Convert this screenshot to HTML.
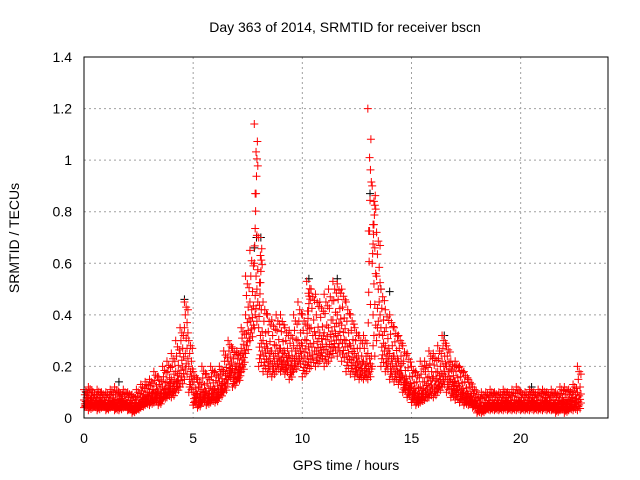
<!DOCTYPE html>
<html><head><meta charset="utf-8"><style>
body{margin:0;background:#fff}
svg{display:block;font-family:"Liberation Sans",sans-serif;font-size:14px}
</style></head><body>
<svg id="c" width="640" height="480">
<rect width="640" height="480" fill="#fff"/>
<g id="grid"></g>
<g id="black"></g>
<g id="red"></g>
<rect x="84" y="57" width="524" height="361" fill="none" stroke="#000"/>
<g id="ticks"></g>
<text x="345" y="32" text-anchor="middle">Day 363 of 2014, SRMTID for receiver bscn</text>
<text x="346" y="470" text-anchor="middle">GPS time / hours</text>
<text transform="translate(19,238) rotate(-90)" text-anchor="middle">SRMTID / TECUs</text>
</svg>
<script>
const xTicks=[0,5,10,15,20];
const yTicks=[0,0.2,0.4,0.6,0.8,1,1.2,1.4];
const yTickLabels=["0","0.2","0.4","0.6","0.8","1","1.2","1.4"];
const step=0.2;
const redLow=[.04,.03,.04,.03,.04,.03,.04,.03,.03,.04,.03,.02,.03,.04,.05,.05,.06,.05,.07,.08,.08,.10,.12,.15,.10,.05,.04,.06,.05,.06,.06,.08,.10,.15,.12,.14,.18,.25,.30,.35,.20,.18,.17,.16,.18,.18,.17,.15,.18,.20,.16,.18,.20,.20,.22,.20,.22,.25,.24,.22,.18,.17,.16,.15,.15,.15,.20,.30,.20,.18,.15,.14,.13,.10,.08,.06,.05,.06,.07,.08,.08,.10,.12,.10,.08,.07,.06,.05,.05,.04,.02,.02,.03,.03,.03,.03,.03,.03,.03,.03,.03,.03,.03,.03,.03,.03,.03,.03,.02,.03,.02,.03,.03,.03];
const redMid=[.07,.08,.06,.07,.06,.06,.07,.06,.07,.06,.06,.05,.06,.08,.09,.10,.11,.10,.12,.14,.15,.18,.25,.35,.20,.10,.09,.11,.10,.12,.11,.14,.18,.22,.19,.20,.27,.40,.45,.60,.35,.30,.27,.26,.28,.27,.25,.24,.28,.30,.28,.30,.35,.32,.33,.33,.35,.38,.40,.36,.30,.28,.25,.22,.22,.25,.60,.55,.35,.28,.25,.24,.22,.16,.14,.12,.10,.12,.14,.16,.16,.18,.22,.20,.15,.14,.12,.10,.09,.07,.05,.05,.06,.06,.06,.06,.07,.06,.06,.07,.06,.06,.07,.06,.06,.07,.06,.06,.06,.07,.06,.07,.08,.10];
const redHigh=[.11,.12,.10,.11,.10,.10,.11,.12,.10,.11,.10,.09,.11,.13,.14,.15,.18,.16,.20,.22,.25,.30,.35,.45,.30,.18,.15,.20,.17,.20,.18,.20,.26,.30,.27,.26,.35,.55,.65,1.14,.70,.45,.40,.38,.40,.40,.35,.34,.40,.45,.40,.53,.50,.48,.45,.48,.50,.53,.52,.50,.45,.40,.35,.32,.32,1.2,.90,.72,.50,.42,.40,.35,.32,.28,.25,.20,.18,.22,.22,.26,.25,.28,.32,.28,.22,.22,.20,.18,.15,.12,.09,.10,.10,.11,.10,.10,.11,.10,.11,.12,.10,.10,.11,.10,.11,.11,.10,.11,.10,.12,.12,.11,.13,.20];
const blackT=[0.1,1.6,4.6,7.8,7.9,8.1,10.3,11.6,13.1,13.6,14.0,16.5,20.5];
const blackV=[.10,.14,.46,.66,.70,.70,.54,.54,.87,.50,.49,.32,.12];
const X=t=>84+t*524/24, Y=v=>418-v*361/1.4;
const ns="http://www.w3.org/2000/svg";
function cross(g,t,v,col){const p=document.createElementNS(ns,'path');const x=X(t),y=Y(v);
p.setAttribute('d',`M${x-4} ${y}h8M${x} ${y-4}v8`);p.setAttribute('stroke',col);p.setAttribute('fill','none');


g.appendChild(p);}
const grid=document.getElementById('grid'),ticks=document.getElementById('ticks');
yTicks.forEach((v,i)=>{const y=Y(v);
if(i>0&&i<yTicks.length-1){const l=document.createElementNS(ns,'line');l.setAttribute('x1',84);l.setAttribute('x2',608);l.setAttribute('y1',y);l.setAttribute('y2',y);l.setAttribute('stroke','#a0a0a0');l.setAttribute('stroke-dasharray','2,3');


grid.appendChild(l);}
const t=document.createElementNS(ns,'text');t.setAttribute('x',72);t.setAttribute('y',y+5);t.setAttribute('text-anchor','end');t.textContent=yTickLabels[i];


ticks.appendChild(t);});
xTicks.forEach(v=>{const x=X(v);
if(v>0){const l=document.createElementNS(ns,'line');l.setAttribute('x1',x);l.setAttribute('x2',x);l.setAttribute('y1',57);l.setAttribute('y2',418);l.setAttribute('stroke','#a0a0a0');l.setAttribute('stroke-dasharray','2,3');


grid.appendChild(l);}
const t=document.createElementNS(ns,'text');t.setAttribute('x',x);t.setAttribute('y',443);t.setAttribute('text-anchor','middle');t.textContent=v;


ticks.appendChild(t);});
const bg=document.getElementById('black');
blackT.forEach((t,i)=>cross(bg,t,blackV[i],'#000'));
const rg=document.getElementById('red');
const fr=[[0,.5,1],[.25,.75,.1],[.4,.15,.9],[.6,.3,.05],[.2,.85,.45]];
redMid.forEach((m,i)=>{const t=i*step,lo=redLow[i],hi=redHigh[i];
fr.forEach((f,k)=>{const tt=t+k*step/fr.length;
f.forEach(q=>{const v=q<=.5?lo+(m-lo)*q*2:m+(hi-m)*(q-.5)*2;cross(rg,tt,v,'#f00');});});
if(hi-m>0.2){for(let k=1;k<8;k++)cross(rg,t+0.02*k,m+(hi-m)*k/8,'#f00');}
});
</script>
</body></html>
